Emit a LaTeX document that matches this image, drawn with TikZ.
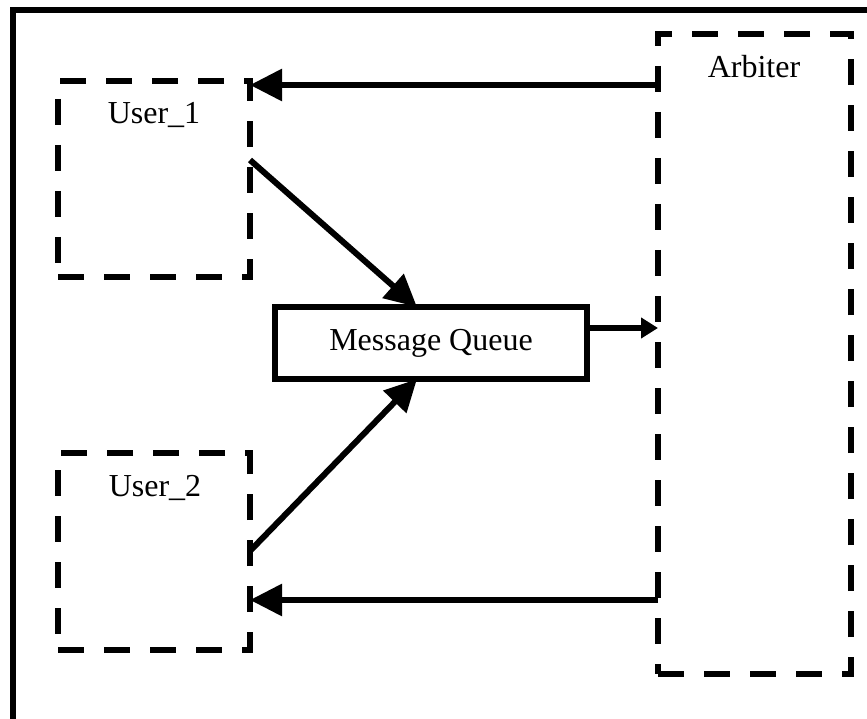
\documentclass[tikz,border=0pt]{standalone}
\usepackage{fontspec}
\setmainfont{Liberation Serif}
\usetikzlibrary{arrows.meta}
\begin{document}
\begin{tikzpicture}[x=1pt,y=-1pt,
  dbox/.style={draw,line width=6.5pt,dash pattern=on 26pt off 20pt,inner sep=0pt,outer sep=0pt},
  sbox/.style={draw,line width=6.5pt,inner sep=0pt,outer sep=0pt},
  lbl/.style={anchor=base,inner sep=0pt,font=\fontsize{32}{38}\selectfont},
  bigarrow/.style={line width=6pt,-{Triangle[length=32pt,width=31pt]}},
  smallarrow/.style={line width=6pt,-{Triangle[length=17pt,width=20pt]}}]
\useasboundingbox (0,0) rectangle (867,719);
\fill[white] (0,0) rectangle (867,719);
\draw[line width=6.5pt] (13,10) rectangle (880,740);
\node[dbox,minimum width=192pt,minimum height=196pt] (user1) at (154,179) {};
\node[dbox,minimum width=192pt,minimum height=197pt] (user2) at (154,551.5) {};
\node[dbox,minimum width=193pt,minimum height=640pt] (arbiter) at (754.5,354) {};
\node[sbox,minimum width=312pt,minimum height=72pt] (mq) at (431,343) {};
\node[lbl] (t1) at (154,124) {User\_1};
\node[lbl] (t2) at (155,496) {User\_2};
\node[lbl] (ta) at (754,78) {Arbiter};
\node[lbl] (tm) at (431,350) {Message Queue};
\draw[bigarrow] (arbiter.west |- {(0,85)}) -- (user1.east |- {(0,85)});
\draw[bigarrow] (arbiter.west |- {(0,600)}) -- (user2.east |- {(0,600)});
\draw[bigarrow] (user1.east |- {(0,160)}) -- ([xshift=-14pt]mq.north);
\draw[bigarrow] (user2.east |- {(0,551)}) -- ([xshift=-14pt]mq.south);
\draw[smallarrow] (mq.east |- {(0,328)}) -- (arbiter.west |- {(0,328)});
\end{tikzpicture}
\end{document}
